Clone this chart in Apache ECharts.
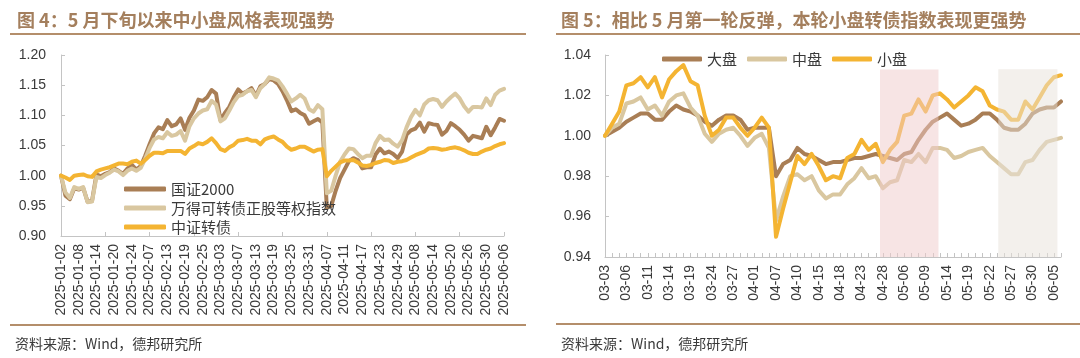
<!DOCTYPE html>
<html>
<head>
<meta charset="utf-8">
<script src="https://cdn.jsdelivr.net/npm/echarts@6/dist/echarts.min.js"></script>
<style>
html,body{margin:0;padding:0;background:#ffffff;}
#c{width:1080px;height:358px;}
</style>
</head>
<body>
<div id="c"></div>
<script>
// ---------- data ----------
const tradeDates = [
  '2025-01-02','2025-01-03','2025-01-06','2025-01-07','2025-01-08','2025-01-09','2025-01-10','2025-01-13','2025-01-14','2025-01-15',
  '2025-01-16','2025-01-17','2025-01-20','2025-01-21','2025-01-22','2025-01-23','2025-01-24','2025-01-27','2025-02-05','2025-02-06',
  '2025-02-07','2025-02-10','2025-02-11','2025-02-12','2025-02-13','2025-02-14','2025-02-17','2025-02-18','2025-02-19','2025-02-20',
  '2025-02-21','2025-02-24','2025-02-25','2025-02-26','2025-02-27','2025-02-28','2025-03-03','2025-03-04','2025-03-05','2025-03-06',
  '2025-03-07','2025-03-10','2025-03-11','2025-03-12','2025-03-13','2025-03-14','2025-03-17','2025-03-18','2025-03-19','2025-03-20',
  '2025-03-21','2025-03-24','2025-03-25','2025-03-26','2025-03-27','2025-03-28','2025-03-31','2025-04-01','2025-04-02','2025-04-03',
  '2025-04-07','2025-04-08','2025-04-09','2025-04-10','2025-04-11','2025-04-14','2025-04-15','2025-04-16','2025-04-17','2025-04-18',
  '2025-04-21','2025-04-22','2025-04-23','2025-04-24','2025-04-25','2025-04-28','2025-04-29','2025-04-30','2025-05-06','2025-05-07',
  '2025-05-08','2025-05-09','2025-05-12','2025-05-13','2025-05-14','2025-05-15','2025-05-16','2025-05-19','2025-05-20','2025-05-21',
  '2025-05-22','2025-05-23','2025-05-26','2025-05-27','2025-05-28','2025-05-29','2025-05-30','2025-06-03','2025-06-04','2025-06-05',
  '2025-06-06'
];

// 图4 series
const gz2000 = [
  1.000,0.967,0.961,0.979,0.977,0.980,0.957,0.958,1.002,0.999,
  1.003,1.006,1.012,1.008,1.003,1.012,1.018,1.010,1.016,1.033,
  1.052,1.070,1.080,1.077,1.092,1.082,1.085,1.095,1.076,1.096,
  1.108,1.126,1.124,1.130,1.142,1.136,1.092,1.104,1.114,1.130,
  1.143,1.136,1.140,1.145,1.132,1.148,1.152,1.160,1.158,1.152,
  1.140,1.125,1.107,1.110,1.104,1.100,1.086,1.090,1.094,1.088,
  0.947,0.950,0.975,0.996,1.010,1.024,1.029,1.026,1.012,1.014,
  1.014,1.035,1.045,1.037,1.040,1.036,1.029,1.040,1.068,1.075,
  1.078,1.088,1.073,1.087,1.085,1.084,1.068,1.074,1.087,1.082,
  1.076,1.068,1.058,1.066,1.064,1.062,1.081,1.067,1.080,1.094,
  1.091
];
const wdCbStockEq = [
  1.000,0.972,0.963,0.981,0.978,0.981,0.956,0.957,0.998,0.996,
  1.001,1.005,1.010,1.007,1.001,1.008,1.012,1.008,1.013,1.028,
  1.046,1.060,1.064,1.062,1.072,1.066,1.068,1.074,1.058,1.082,
  1.095,1.103,1.108,1.110,1.124,1.118,1.090,1.095,1.108,1.122,
  1.132,1.134,1.140,1.142,1.130,1.145,1.152,1.163,1.161,1.158,
  1.148,1.136,1.123,1.128,1.134,1.128,1.110,1.106,1.117,1.110,
  0.971,0.975,1.000,1.023,1.035,1.045,1.044,1.036,1.029,1.033,
  1.033,1.054,1.066,1.059,1.060,1.053,1.048,1.059,1.080,1.097,
  1.109,1.100,1.118,1.125,1.127,1.125,1.114,1.123,1.130,1.136,
  1.128,1.115,1.106,1.114,1.114,1.113,1.128,1.117,1.134,1.141,
  1.144
];
const zzCb = [
  1.000,0.997,0.993,1.000,1.001,1.002,0.999,0.998,1.007,1.010,
  1.012,1.014,1.017,1.020,1.020,1.019,1.023,1.025,1.020,1.026,
  1.033,1.038,1.038,1.037,1.041,1.041,1.041,1.041,1.036,1.045,
  1.049,1.054,1.052,1.056,1.062,1.054,1.044,1.041,1.047,1.051,
  1.058,1.059,1.061,1.058,1.058,1.052,1.060,1.063,1.065,1.060,
  1.056,1.048,1.043,1.045,1.048,1.048,1.044,1.040,1.043,1.044,
  0.999,1.008,1.015,1.022,1.025,1.025,1.026,1.022,1.017,1.016,
  1.018,1.021,1.023,1.026,1.025,1.021,1.023,1.024,1.026,1.030,
  1.034,1.037,1.040,1.045,1.046,1.045,1.043,1.044,1.046,1.047,
  1.045,1.042,1.038,1.036,1.036,1.040,1.043,1.045,1.049,1.052,
  1.054
];

// 图5 series (from 03-03)
const rightDates = tradeDates.slice(tradeDates.indexOf('2025-03-03')).map(d => d.slice(5));
const daPan = [
  1.000,1.002,1.004,1.007,1.009,1.011,1.011,1.008,1.008,1.012,
  1.015,1.013,1.012,1.010,1.007,1.005,1.008,1.010,1.010,1.008,
  1.003,1.004,1.004,1.004,0.980,0.986,0.988,0.994,0.991,0.990,
  0.988,0.986,0.987,0.987,0.988,0.989,0.989,0.990,0.991,0.990,
  0.989,0.988,0.991,0.992,0.998,1.003,1.007,1.009,1.011,1.008,
  1.005,1.006,1.008,1.011,1.011,1.008,1.004,1.003,1.003,1.006,
  1.011,1.013,1.014,1.014,1.017
];
const zhongPan = [
  1.000,1.004,1.006,1.016,1.017,1.019,1.013,1.015,1.010,1.017,
  1.020,1.021,1.014,1.010,1.001,0.997,1.001,1.003,1.004,1.000,
  0.995,0.999,1.001,0.994,0.958,0.970,0.980,0.981,0.978,0.980,
  0.973,0.969,0.971,0.971,0.976,0.979,0.984,0.979,0.980,0.974,
  0.977,0.978,0.988,0.987,0.991,0.987,0.994,0.994,0.993,0.989,
  0.990,0.992,0.993,0.994,0.990,0.987,0.984,0.981,0.981,0.987,
  0.988,0.993,0.997,0.998,0.999
];
const xiaoPan = [
  1.000,1.006,1.012,1.025,1.026,1.029,1.024,1.029,1.019,1.028,
  1.032,1.035,1.027,1.025,1.010,1.000,1.003,1.009,1.009,1.004,
  1.000,1.004,1.009,1.004,0.950,0.964,0.977,0.990,0.986,0.991,
  0.985,0.978,0.980,0.979,0.989,0.991,0.998,0.993,0.996,0.987,
  0.993,0.997,1.010,1.011,1.018,1.012,1.020,1.021,1.018,1.014,
  1.017,1.020,1.024,1.022,1.015,1.013,1.012,1.008,1.008,1.017,
  1.013,1.019,1.025,1.029,1.030
];
// shaded periods on 图5, in category-index units along the x axis, top in y units
const shadeFrom = [38.6, 55.2];
const shadeTo   = [46.8, 63.5];
const shadeTop  = [1.0328, 1.0330];

// ---------- chart ----------
const FONT_LATIN = "'Liberation Sans', Arial, 'Noto Sans CJK SC', sans-serif";
const FONT_CJK = "'Noto Sans CJK SC', 'Liberation Sans', sans-serif";
const AXIS = '#c4c4c4';
const LABEL = '#3a3a3a';
const TITLE = '#a47f5d';
const RULE = '#b48e6b';
const C_BROWN = '#a97e55';
const C_BEIGE = '#d9c7a0';
const C_YELLOW = '#f4b432';
const shadeFills = ['rgba(239,201,201,0.5)', 'rgba(231,225,217,0.5)'];

const leftYMin = 0.9, leftYMax = 1.2;
const rightYMin = 0.94, rightYMax = 1.04;

const chart = echarts.init(document.getElementById('c'), null, {renderer: 'canvas'});

function catAxis(gridIndex, data, labelInterval, tickInterval) {
  return {
    type: 'category', gridIndex, data, boundaryGap: false,
    axisLine: {show: true, lineStyle: {color: AXIS, width: 1}},
    axisTick: {show: true, inside: true, length: 4, interval: tickInterval, lineStyle: {color: AXIS}},
    axisLabel: {interval: labelInterval, rotate: 90, fontSize: 14, color: LABEL, margin: 8, fontFamily: FONT_LATIN},
    splitLine: {show: false}
  };
}
function valAxis(gridIndex, min, max, interval, margin) {
  return {
    type: 'value', gridIndex, min, max, interval,
    axisLine: {show: true, lineStyle: {color: AXIS, width: 1}},
    axisTick: {show: true, inside: true, length: 4, lineStyle: {color: AXIS}},
    axisLabel: {formatter: v => v.toFixed(2), fontSize: 14, color: LABEL, margin, fontFamily: FONT_LATIN},
    splitLine: {show: false}
  };
}
function lineSeries(name, data, color, xi, yi) {
  return {
    type: 'line', name, data, xAxisIndex: xi, yAxisIndex: yi,
    showSymbol: false, symbol: 'none', smooth: false, z: 3,
    lineStyle: {color, width: 4, cap: 'round', join: 'round'},
    itemStyle: {color}
  };
}

const option = {
  animation: false,
  backgroundColor: '#ffffff',
  title: [
    {text: '图 4：5 月下旬以来中小盘风格表现强势', left: 12, top: 6,
     textStyle: {fontSize: 18, fontWeight: 'bold', color: TITLE, fontFamily: FONT_CJK}},
    {text: '图 5：相比 5 月第一轮反弹，本轮小盘转债指数表现更强势', left: 556, top: 6,
     textStyle: {fontSize: 18, fontWeight: 'bold', color: TITLE, fontFamily: FONT_CJK}},
    {text: '资料来源：Wind，德邦研究所', left: 10, top: 332,
     textStyle: {fontSize: 14, fontWeight: 'normal', color: LABEL, fontFamily: FONT_CJK}},
    {text: '资料来源：Wind，德邦研究所', left: 556, top: 332,
     textStyle: {fontSize: 14, fontWeight: 'normal', color: LABEL, fontFamily: FONT_CJK}}
  ],
  graphic: [
    {type: 'rect', silent: true, shape: {x: 10, y: 33, width: 516, height: 2}, style: {fill: RULE}},
    {type: 'rect', silent: true, shape: {x: 556, y: 33, width: 524, height: 2}, style: {fill: RULE}},
    {type: 'rect', silent: true, shape: {x: 10, y: 324, width: 516, height: 2}, style: {fill: RULE}},
    {type: 'rect', silent: true, shape: {x: 556, y: 323, width: 524, height: 2}, style: {fill: RULE}}
  ],
  grid: [
    {left: 61, right: 576, top: 55, bottom: 122, containLabel: false},
    {left: 605, right: 19, top: 55, bottom: 101, containLabel: false}
  ],
  xAxis: [
    catAxis(0, tradeDates, 3, 9),
    catAxis(1, rightDates, 2, 0),
    {type: 'value', gridIndex: 1, min: 0, max: rightDates.length - 1, show: false}
  ],
  yAxis: [
    valAxis(0, leftYMin, leftYMax, 0.05, 15),
    valAxis(1, rightYMin, rightYMax, 0.02, 14)
  ],
  legend: [
    {
      data: ['国证2000', '万得可转债正股等权指数', '中证转债'],
      orient: 'vertical', left: 119, top: 176,
      itemWidth: 42, itemHeight: 5, itemGap: 3, icon: 'roundRect',
      textStyle: {fontSize: 15, color: LABEL, fontFamily: FONT_CJK, lineHeight: 16}
    },
    {
      data: ['大盘', '中盘', '小盘'],
      orient: 'horizontal', left: 657, top: 46,
      itemWidth: 40, itemHeight: 5, itemGap: 10, icon: 'roundRect',
      textStyle: {fontSize: 15, color: LABEL, fontFamily: FONT_CJK, lineHeight: 16}
    }
  ],
  series: [
    lineSeries('国证2000', gz2000, C_BROWN, 0, 0),
    lineSeries('万得可转债正股等权指数', wdCbStockEq, C_BEIGE, 0, 0),
    lineSeries('中证转债', zzCb, C_YELLOW, 0, 0),
    lineSeries('大盘', daPan, C_BROWN, 1, 1),
    lineSeries('中盘', zhongPan, C_BEIGE, 1, 1),
    lineSeries('小盘', xiaoPan, C_YELLOW, 1, 1),
    {
      type: 'custom', name: 'shade', xAxisIndex: 2, yAxisIndex: 1, z: 10, silent: true,
      data: shadeFrom.map((s, i) => [s, shadeTo[i], shadeTop[i], i]),
      renderItem: function (params, api) {
        const p0 = api.coord([api.value(0), api.value(2)]);
        const p1 = api.coord([api.value(1), rightYMin]);
        return {
          type: 'rect',
          shape: {x: p0[0], y: p0[1], width: p1[0] - p0[0], height: p1[1] - p0[1]},
          style: {fill: shadeFills[api.value(3)], blend: 'multiply'}
        };
      }
    }
  ]
};
chart.setOption(option);
</script>
</body>
</html>
